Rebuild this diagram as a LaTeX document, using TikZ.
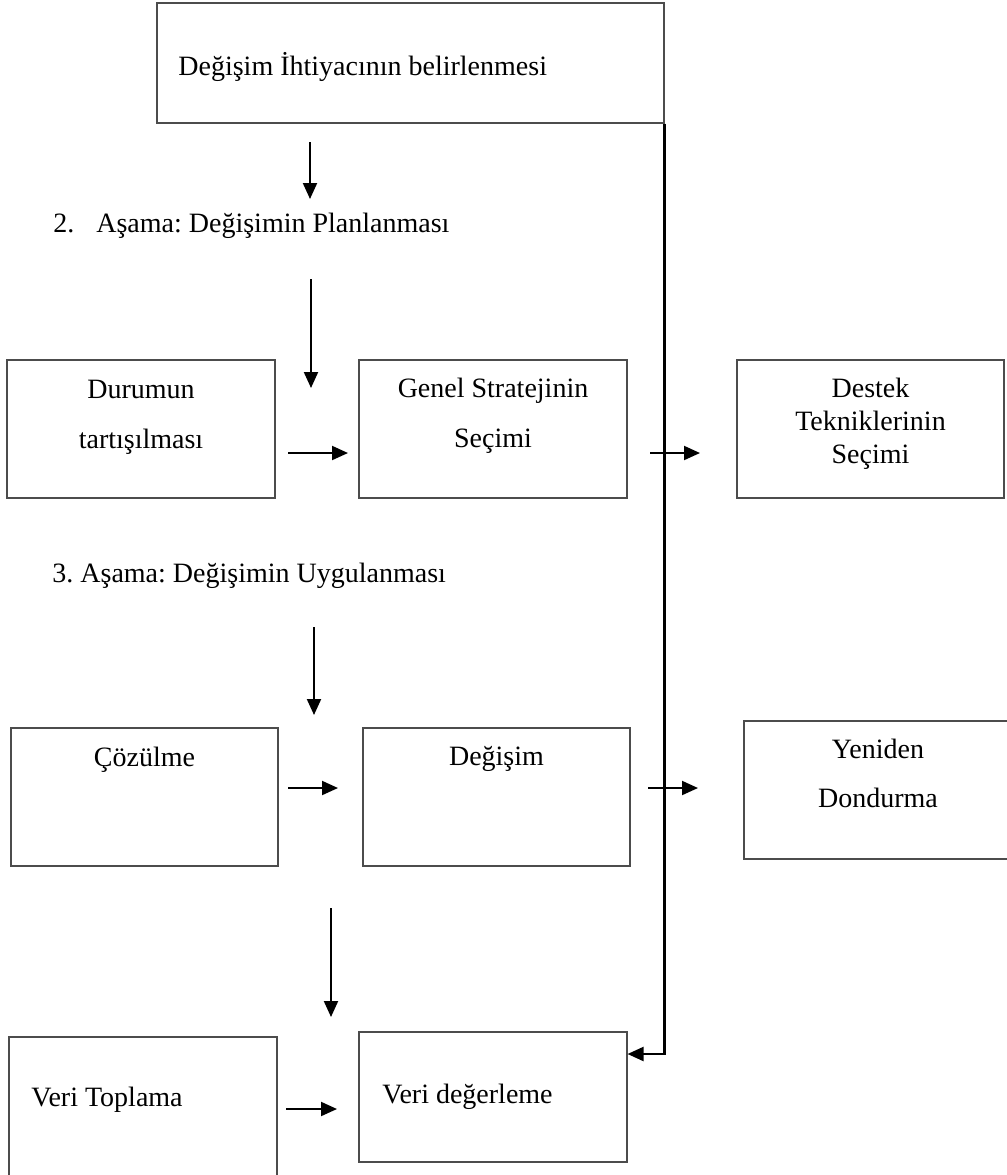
\documentclass[tikz,border=0pt]{standalone}
\usepackage{fontspec}
\setmainfont{Liberation Serif}
\usetikzlibrary{arrows.meta,calc}
\frenchspacing

\begin{document}
\begin{tikzpicture}[x=0.5pt,y=-0.5pt]
\tikzstyle{kutu} = [draw=black!70,line width=0.55pt,rectangle,inner sep=0pt,minimum width=134pt,minimum height=69pt]
\tikzstyle{yazi} = [font=\fontsize{14}{17}\selectfont,inner sep=0pt,anchor=base]
\tikzstyle{ok} = [line width=1pt,-{Triangle[length=8pt,width=7pt]}]
\useasboundingbox (0,0) rectangle (1007,1175);
  %top box
  \node[kutu,minimum width=253.5pt,minimum height=60pt] (ust) at (410.5,63) {};
  \node[yazi,anchor=base west] (t_ust) at (178,75) {Değişim İhtiyacının belirlenmesi};
  %stage labels
  \node[yazi,anchor=base west] (asama2) at (53,232) {2.\hspace{11pt}Aşama: Değişimin Planlanması};
  \node[yazi,anchor=base west] (asama3) at (52,582) {3. Aşama: Değişimin Uygulanması};
  %row 1
  \node[kutu] (durum) at (141,429) {};
  \node[yazi] (t_durum1) at (141,398) {Durumun};
  \node[yazi] (t_durum2) at (141,448) {tartışılması};
  \node[kutu] (genel) at (493,429) {};
  \node[yazi] (t_genel1) at (493,397) {Genel Stratejinin};
  \node[yazi] (t_genel2) at (493,447) {Seçimi};
  \node[kutu,minimum width=133.5pt] (destek) at (870.5,429) {};
  \node[yazi] (t_destek1) at (870.5,397) {Destek};
  \node[yazi] (t_destek2) at (870.5,430) {Tekniklerinin};
  \node[yazi] (t_destek3) at (870.5,463) {Seçimi};
  %row 2
  \node[kutu,minimum width=133.5pt] (cozul) at (144.5,797) {};
  \node[yazi] (t_cozul) at (144.5,766) {Çözülme};
  \node[kutu,minimum width=133.5pt] (degis) at (496.5,797) {};
  \node[yazi] (t_degis) at (496.5,765) {Değişim};
  \node[kutu,minimum width=133pt] (yeniden) at (877,790) {};
  \node[yazi] (t_yeniden1) at (878,758) {Yeniden};
  \node[yazi] (t_yeniden2) at (878,807) {Dondurma};
  %row 3
  \node[kutu,minimum height=70pt] (veritop) at (143,1107) {};
  \node[yazi,anchor=base west] (t_veritop) at (31,1106) {Veri Toplama};
  \node[kutu,minimum height=65pt] (veride) at (493,1097) {};
  \node[yazi,anchor=base west] (t_veride) at (382,1103) {Veri değerleme};
  %arrow ends
  \coordinate (a1s) at (310,142);  \coordinate (a1e) at (310,199);
  \coordinate (a2s) at (311,279);  \coordinate (a2e) at (311,388);
  \coordinate (a3s) at (314,627);  \coordinate (a3e) at (314,715);
  \coordinate (a4s) at (331,908);  \coordinate (a4e) at (331,1017);
  \coordinate (h1s) at (288,453);  \coordinate (h1e) at (348,453);
  \coordinate (h2s) at (650,453);  \coordinate (h2e) at (700,453);
  \coordinate (h3s) at (288,788);  \coordinate (h3e) at (338,788);
  \coordinate (h4s) at (648,788);  \coordinate (h4e) at (698,788);
  \coordinate (h5s) at (286,1109); \coordinate (h5e) at (337,1109);
  %arrows
  \foreach \a in {a1,a2,a3,a4,h1,h2,h3,h4,h5}
  \draw[ok] (\a s) -- (\a e);
  %feedback line
  \draw[ok,line width=1.1pt] (ust.south east) |- ($(veride.east)+(0,-43)$);
\end{tikzpicture}
\end{document}
